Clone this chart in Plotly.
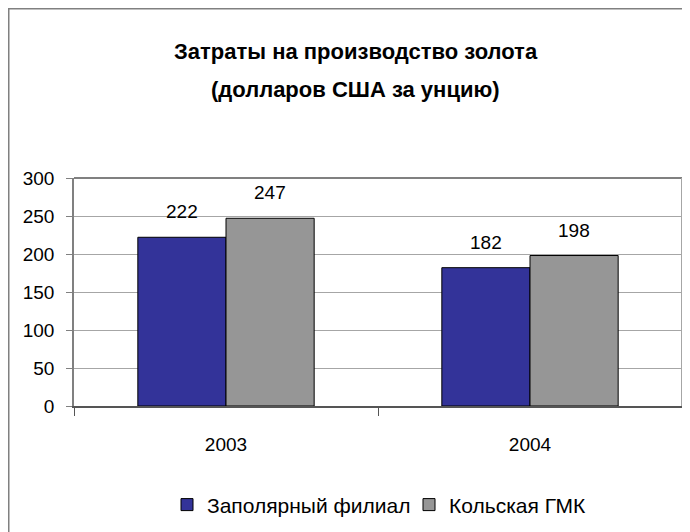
import plotly.graph_objects as go

categories = ["2003", "2004"]
series_names = ["Заполярный филиал", "Кольская ГМК"]
zapolyarny = [222, 182]
kolskaya = [247, 198]
y_ticks = [0, 50, 100, 150, 200, 250, 300]
title_lines = ["Затраты на производство золота", "(долларов США за унцию)"]

FONT = "Liberation Sans, Arial, sans-serif"
colors = ["#333399", "#969696"]
bargap = 0.42

fig = go.Figure()
for name, vals, col in zip(series_names, [zapolyarny, kolskaya], colors):
    fig.add_trace(go.Bar(
        x=categories, y=vals, name=name,
        marker=dict(color=col, line=dict(color="#000000", width=1)),
    ))

# data labels above bars
half = (1 - bargap) / 2
for si, vals in enumerate([zapolyarny, kolskaya]):
    off = (-0.5 + si) * half
    for ci, v in enumerate(vals):
        fig.add_annotation(
            x=ci + off, y=v, xref="x", yref="y", text=str(v),
            showarrow=False, yanchor="bottom", yshift=13,
            font=dict(family=FONT, size=19, color="#000000"),
        )

# two-line title
for line, ypos in zip(title_lines, [1.553, 1.390]):
    fig.add_annotation(
        x=0.4638, y=ypos, xref="paper", yref="paper", text="<b>" + line + "</b>",
        showarrow=False, xanchor="center", yanchor="middle",
        font=dict(family=FONT, size=22, color="#000000"),
    )

fig.update_layout(
    width=682, height=524,
    margin=dict(l=66, r=8, t=170, b=126, autoexpand=False),
    paper_bgcolor="#ffffff", plot_bgcolor="#ffffff",
    barmode="group", bargap=bargap, bargroupgap=0,
    font=dict(family=FONT, size=19, color="#000000"),
    showlegend=True,
    legend=dict(
        orientation="h", x=0.551, xanchor="center", y=-0.434, yanchor="middle",
        font=dict(family=FONT, size=21, color="#000000"),
        itemwidth=30, tracegroupgap=0, bgcolor="rgba(0,0,0,0)",
        entrywidth=197, entrywidthmode="pixels",
    ),
    xaxis=dict(
        type="category", showgrid=False, showline=True, linecolor="#555555",
        linewidth=1.5, ticks="outside", tickson="boundaries", ticklen=8,
        tickcolor="#555555", ticklabelstandoff=20, automargin=False,
        tickfont=dict(family=FONT, size=19),
    ),
    yaxis=dict(
        range=[0, 300], tickvals=y_ticks, showgrid=True, gridcolor="#a6a6a6",
        gridwidth=1, showline=True, linecolor="#808080", linewidth=1.5,
        ticks="outside", ticklen=6, tickcolor="#808080", ticklabelstandoff=8,
        zeroline=False, automargin=False, tickfont=dict(family=FONT, size=19),
    ),
    shapes=[
        dict(type="line", xref="paper", yref="paper", x0=0, x1=1, y0=1, y1=1,
             line=dict(color="#808080", width=2)),
        dict(type="line", xref="paper", yref="paper", x0=1, x1=1, y0=0, y1=1,
             line=dict(color="#a6a6a6", width=2)),
        dict(type="rect", xref="paper", yref="paper", x0=-0.1073, x1=1.3,
             y0=-1.5, y1=1.7423, line=dict(color="#808080", width=1.5),
             layer="below"),
    ],
)

fig.write_html("out.html")
